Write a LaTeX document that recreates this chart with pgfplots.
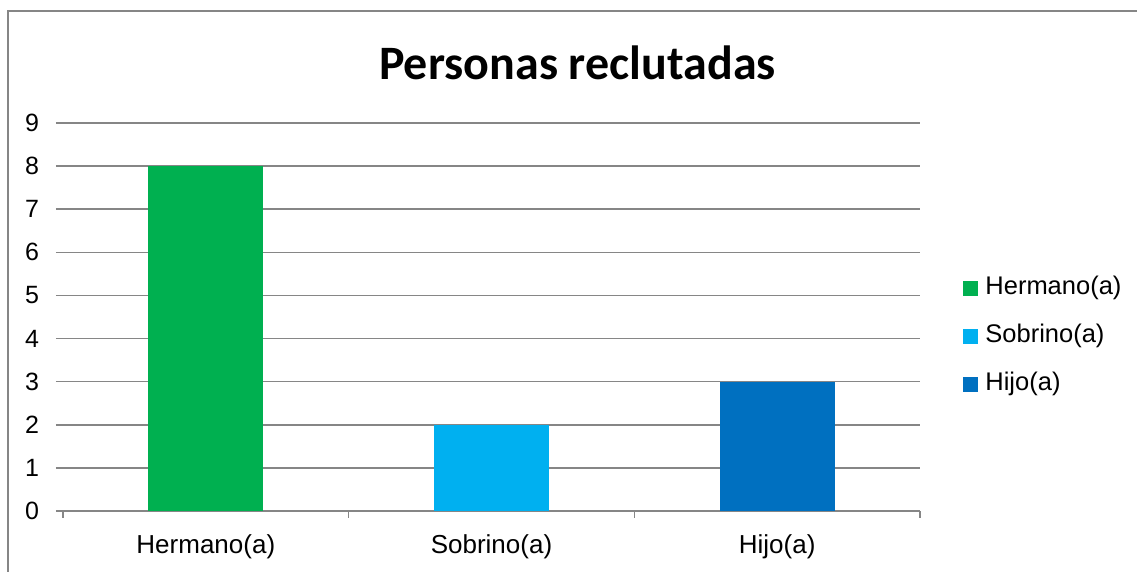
\documentclass[border=0pt]{standalone}
\usepackage{pgfplots}
\pgfplotsset{compat=1.18}
\usepackage{fontspec}
\setmainfont{Liberation Sans}
\newfontfamily\titlefont{Carlito}
\definecolor{cgreen}{HTML}{00B050}
\definecolor{clblue}{HTML}{00B0F0}
\definecolor{cblue}{HTML}{0070C0}
\definecolor{cgrid}{RGB}{134,134,134}
\begin{document}
\begin{tikzpicture}
\useasboundingbox (0,0) rectangle (568.5pt,-286pt);
\draw[cgrid, line width=1pt] (4pt,-286pt) -- (4pt,-5.5pt) -- (568.5pt,-5.5pt);
\node[anchor=base, font=\titlefont\bfseries\fontsize{24}{29}\selectfont, inner sep=0pt] at (288.75pt,-40pt) {Personas reclutadas};
\begin{axis}[
  at={(31.5pt,-255.5pt)}, anchor=south west,
  scale only axis, width=428.5pt, height=194pt,
  xmin=-0.5, xmax=2.5, ymin=0, ymax=9,
  ytick={0,1,...,9},
  xtick={0,1,2},
  xticklabels={Hermano(a),Sobrino(a),Hijo(a)},
  minor xtick={-0.5,0.5,1.5,2.5},
  axis x line*=bottom, axis y line*=left,
  y axis line style={draw=none},
  x axis line style={cgrid, line width=0.75pt, -},
  tick align=outside,
  major tick length=3.5pt, minor tick length=3.5pt,
  major x tick style={draw=none},
  minor x tick style={draw=cgrid, line width=0.75pt},
  ytick style={cgrid, line width=0.75pt},
  ymajorgrids, grid style={cgrid, line width=0.75pt},
  yticklabel style={font=\fontsize{12.5}{15}\selectfont, xshift=-5pt},
  xticklabel style={font=\fontsize{13}{15}\selectfont, yshift=-5pt},
  /pgf/number format/assume math mode=true,
  ybar, bar width=57.5pt, bar shift=0pt,
  legend style={at={(1.0502,0.451)}, anchor=west, draw=none, inner sep=0pt,
    font=\fontsize{12.75}{15}\selectfont, row sep=12pt,
    nodes={inner sep=0pt, text height=9pt, text depth=3pt},
    /tikz/every odd column/.append style={column sep=3.5pt}},
  legend cell align=left,
  legend image code/.code={\fill[#1] (0pt,-3.75pt) rectangle (7.5pt,3.75pt);},
]
\addplot[fill=cgreen, draw=none] coordinates {(0,8)};
\addplot[fill=clblue, draw=none] coordinates {(1,2)};
\addplot[fill=cblue, draw=none] coordinates {(2,3)};
\legend{Hermano(a),Sobrino(a),Hijo(a)}
\end{axis}
\end{tikzpicture}
\end{document}
